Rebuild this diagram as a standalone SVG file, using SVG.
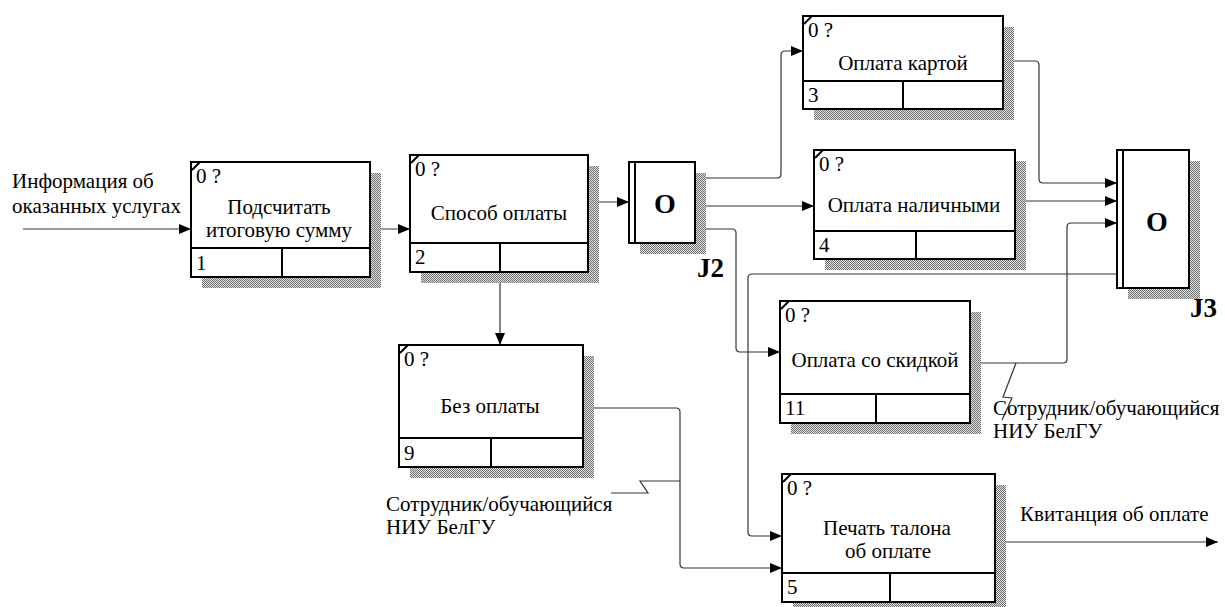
<svg xmlns="http://www.w3.org/2000/svg" width="1225" height="607" viewBox="0 0 1225 607">
  <style>
    text { font-family: "Liberation Serif", "Times New Roman", serif; font-size: 21px; fill: #000; }
    .c { text-anchor: middle; }
    .j { font-weight: bold; font-size: 28px; text-anchor: middle; }
    .jl { font-weight: bold; font-size: 27px; }
    .box { fill: #fff; stroke: #000; stroke-width: 2; }
    .div { stroke: #000; stroke-width: 2; fill: none; }
    .tick { stroke: #000; stroke-width: 2; }
    .sh { fill: url(#hatch); }
    .ln { fill: none; stroke: #333; stroke-width: 1.2; }
    .arr { marker-end: url(#ah); }
  </style>
  <defs>
    <!-- fine checker used for the drop shadows -->
    <pattern id="hatch" width="2" height="2" patternUnits="userSpaceOnUse">
      <rect width="2" height="2" fill="#e2e2e2"/>
      <rect width="1" height="1" fill="#707070"/>
      <rect x="1" y="1" width="1" height="1" fill="#707070"/>
    </pattern>
    <marker id="ah" viewBox="0 0 12 10" refX="12" refY="5" markerWidth="12" markerHeight="10" orient="auto" markerUnits="userSpaceOnUse">
      <path d="M0,0 L12,5 L0,10 z" fill="#000"/>
    </marker>
  </defs>

  <!-- connectors -->
  <g id="connectors">
    <path class="ln arr" d="M23,229 H191"/>
    <path class="ln arr" d="M370,229 H410"/>
    <path class="ln arr" d="M588,202 H629"/>
    <path class="ln arr" d="M500,272 V345"/>
    <path class="ln arr" d="M695,178 H777 Q781,178 781,174 V55 Q781,51 785,51 H803"/>
    <path class="ln arr" d="M695,206 H814"/>
    <path class="ln arr" d="M695,229 H732 Q736,229 736,233 V348 Q736,352 740,352 H780"/>
    <path class="ln arr" d="M1003,61 H1035 Q1039,61 1039,65 V179 Q1039,183 1043,183 H1117"/>
    <path class="ln arr" d="M1015,201 H1117"/>
    <path class="ln arr" d="M970,363 H1063 Q1067,363 1067,359 V227 Q1067,223 1071,223 H1117"/>
    <path class="ln arr" d="M1117,274 H752 Q748,274 748,278 V532 Q748,536 752,536 H782"/>
    <path class="ln arr" d="M583,408 H676 Q680,408 680,412 V564 Q680,568 684,568 H782"/>
    <path class="ln arr" d="M995,542 H1218"/>
    <!-- label squiggles -->
    <polyline class="ln" points="611,493 648,493 640,481 680,481"/>
    <polyline class="ln" points="1016,363 1003,397 1012,398 1002,420"/>
  </g>

  <!-- external labels -->
  <g id="labels">
    <text x="12" y="188">Информация об</text>
    <text x="12" y="213">оказанных услугах</text>
    <text x="386" y="511">Сотрудник/обучающийся</text>
    <text x="386" y="534">НИУ БелГУ</text>
    <text x="993" y="415">Сотрудник/обучающийся</text>
    <text x="993" y="438">НИУ БелГУ</text>
    <text x="1020" y="521">Квитанция об оплате</text>
  </g>

  <g id="node1">
    <rect class="sh" x="202" y="173" width="179" height="115"/>
    <rect class="box" x="191" y="162" width="179" height="115"/>
    <path class="div" d="M191,248 H370 M282,248 V277"/>
    <line class="tick" x1="192" y1="170" x2="200" y2="162"/>
    <text x="196" y="183">0 ?</text>
    <text class="c" x="279" y="214">Подсчитать</text>
    <text class="c" x="279" y="237">итоговую сумму</text>
    <text x="196" y="270">1</text>
  </g>

  <g id="node2">
    <rect class="sh" x="421" y="166" width="178" height="117"/>
    <rect class="box" x="410" y="155" width="178" height="117"/>
    <path class="div" d="M410,243 H588 M500,243 V272"/>
    <line class="tick" x1="411" y1="163" x2="419" y2="155"/>
    <text x="415" y="176">0 ?</text>
    <text class="c" x="499" y="220">Способ оплаты</text>
    <text x="415" y="264">2</text>
  </g>

  <g id="J2">
    <rect class="sh" x="640" y="173" width="66" height="81"/>
    <rect class="box" x="629" y="162" width="66" height="81"/>
    <line class="div" x1="635" y1="162" x2="635" y2="243"/>
    <text class="j" x="665" y="213">O</text>
    <text class="jl" x="697" y="277">J2</text>
  </g>

  <g id="node3">
    <rect class="sh" x="814" y="27" width="200" height="93"/>
    <rect class="box" x="803" y="16" width="200" height="93"/>
    <path class="div" d="M803,81 H1003 M903,81 V109"/>
    <line class="tick" x1="804" y1="24" x2="812" y2="16"/>
    <text x="808" y="37">0 ?</text>
    <text class="c" x="903" y="70">Оплата картой</text>
    <text x="808" y="102">3</text>
  </g>

  <g id="node4">
    <rect class="sh" x="825" y="161" width="201" height="109"/>
    <rect class="box" x="814" y="150" width="201" height="109"/>
    <path class="div" d="M814,231 H1015 M916,231 V259"/>
    <line class="tick" x1="815" y1="158" x2="823" y2="150"/>
    <text x="819" y="171">0 ?</text>
    <text class="c" x="914" y="212">Оплата наличными</text>
    <text x="819" y="252">4</text>
  </g>

  <g id="J3">
    <rect class="sh" x="1128" y="161" width="72" height="138"/>
    <rect class="box" x="1117" y="150" width="72" height="138"/>
    <line class="div" x1="1123" y1="150" x2="1123" y2="288"/>
    <text class="j" x="1157" y="231">O</text>
    <text class="jl" x="1190" y="317">J3</text>
  </g>

  <g id="node11">
    <rect class="sh" x="791" y="312" width="190" height="122"/>
    <rect class="box" x="780" y="301" width="190" height="122"/>
    <path class="div" d="M780,394 H970 M876,394 V423"/>
    <line class="tick" x1="781" y1="309" x2="789" y2="301"/>
    <text x="785" y="322">0 ?</text>
    <text class="c" x="875" y="367">Оплата со скидкой</text>
    <text x="785" y="415">11</text>
  </g>

  <g id="node9">
    <rect class="sh" x="410" y="356" width="184" height="122"/>
    <rect class="box" x="399" y="345" width="184" height="122"/>
    <path class="div" d="M399,438 H583 M491,438 V467"/>
    <line class="tick" x1="400" y1="353" x2="408" y2="345"/>
    <text x="404" y="366">0 ?</text>
    <text class="c" x="490" y="413">Без оплаты</text>
    <text x="404" y="460">9</text>
  </g>

  <g id="node5">
    <rect class="sh" x="793" y="485" width="213" height="128"/>
    <rect class="box" x="782" y="474" width="213" height="128"/>
    <path class="div" d="M782,573 H995 M890,573 V602"/>
    <line class="tick" x1="783" y1="482" x2="791" y2="474"/>
    <text x="787" y="495">0 ?</text>
    <text class="c" x="887" y="535">Печать талона</text>
    <text class="c" x="888" y="558">об оплате</text>
    <text x="787" y="594">5</text>
  </g>
</svg>
